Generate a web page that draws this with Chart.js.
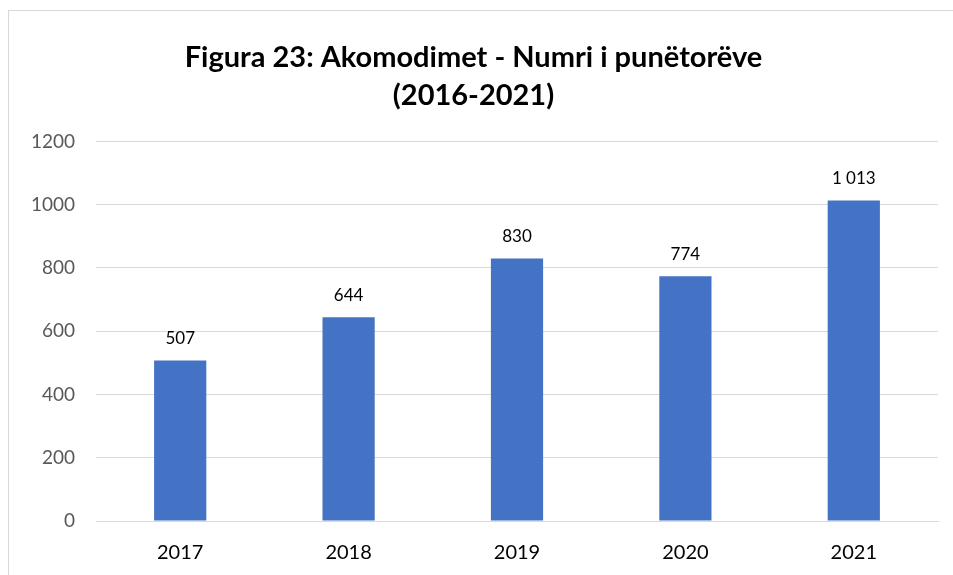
<!DOCTYPE html>
<html>
<head>
<meta charset="utf-8">
<script src="https://cdn.jsdelivr.net/npm/chart.js@4"></script>
<style>
  html, body { margin: 0; padding: 0; background: #fff; }
  .frame { position: absolute; left: 8px; top: 10px; width: 945px; height: 565px;
           border-top: 1px solid #d9d9d9; border-left: 1px solid #d9d9d9; box-sizing: border-box; }
</style>
</head>
<body>
<div class="frame"><canvas id="chart"></canvas></div>
<script>
const years = ['2017', '2018', '2019', '2020', '2021'];
const workers = [507, 644, 830, 774, 1013];
const yTicks = [0, 200, 400, 600, 800, 1000, 1200];
const titleLines = ['Figura 23: Akomodimet - Numri i punëtorëve', '(2016-2021)'];

const fmt = (v) => String(v).replace(/\B(?=(\d{3})+(?!\d))/g, ' ');

// value labels above each bar
const barLabels = {
  id: 'barLabels',
  afterDatasetsDraw(chart) {
    const { ctx } = chart;
    const meta = chart.getDatasetMeta(0);
    ctx.save();
    ctx.font = '17px Lato, "Open Sans", sans-serif';
    ctx.fillStyle = '#000';
    ctx.textAlign = 'center';
    ctx.textBaseline = 'middle';
    meta.data.forEach((bar, i) => {
      ctx.fillText(fmt(workers[i]), bar.x, bar.y - 22);
    });
    ctx.restore();
  }
};

new Chart(document.getElementById('chart'), {
  type: 'bar',
  data: {
    labels: years,
    datasets: [{ data: workers, backgroundColor: '#4472c4', barPercentage: 0.31, categoryPercentage: 1 }]
  },
  options: {
    responsive: true,
    maintainAspectRatio: false,
    animation: false,
    layout: { padding: { left: 0, right: 15, top: 0, bottom: 0 } },
    plugins: {
      legend: { display: false },
      tooltip: { enabled: false },
      title: {
        display: true,
        text: titleLines,
        color: '#000',
        font: { family: 'Lato, "Open Sans", sans-serif', size: 29, weight: 'bold', lineHeight: 1.3 },
        padding: { top: 28, bottom: 27 }
      }
    },
    scales: {
      x: {
        grid: { display: false, drawTicks: false },
        border: { color: '#d9d9d9' },
        ticks: { color: '#000', padding: 20, font: { family: 'Lato, "Open Sans", sans-serif', size: 20 } },
        afterFit: (s) => { s.height = 54; }
      },
      y: {
        min: 0, max: 1200,
        afterBuildTicks: (s) => { s.ticks = yTicks.map((v) => ({ value: v })); },
        grid: { color: '#d9d9d9', drawTicks: false },
        border: { display: false },
        ticks: { color: '#595959', padding: 21, font: { family: 'Lato, "Open Sans", sans-serif', size: 19 },
                 callback: (v) => String(v) },
        afterFit: (s) => { s.width = 87; }
      }
    }
  },
  plugins: [barLabels]
});
</script>
</body>
</html>
